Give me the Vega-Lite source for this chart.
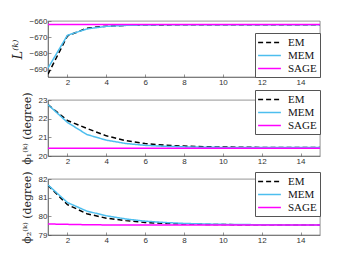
{
  "$schema": "https://vega.github.io/schema/vega-lite/v6.json",
  "background": "white",
  "padding": {"left": 11, "top": 16, "right": 5, "bottom": 5},
  "bounds": "flush",
  "spacing": 23,
  "config": {
    "view": {"stroke": "#4d4d4d", "strokeWidth": 0.6},
    "axis": {
      "grid": false, "domainColor": "#4d4d4d", "domainWidth": 0.6, "tickColor": "#4d4d4d", "tickWidth": 0.6,
      "tickSize": -3, "labelPadding": 4, "labelFont": "Liberation Sans", "labelFontSize": 8, "labelColor": "#333333",
      "titleFont": "DejaVu Serif", "titleFontSize": 11, "titleFontWeight": "normal", "titleColor": "#222222"
    },
    "legend": {
      "labelFont": "Liberation Serif", "labelFontSize": 11, "labelColor": "#111111", "symbolType": "M-2,0H2",
      "symbolSize": 130, "symbolStrokeWidth": 1.5, "symbolOffset": 5, "strokeColor": "#555555", "fillColor": "white",
      "padding": 3, "rowPadding": 1, "title": null, "labelOffset": 12
    }
  },
  "data": {"values": [
    {"p":"L","x":1,"m":"EM","v":-692.8},{"p":"L","x":2,"m":"EM","v":-669.2},{"p":"L","x":3,"m":"EM","v":-664.4},{"p":"L","x":4,"m":"EM","v":-663.2},{"p":"L","x":5,"m":"EM","v":-662.7},{"p":"L","x":6,"m":"EM","v":-662.5},{"p":"L","x":7,"m":"EM","v":-662.4},{"p":"L","x":8,"m":"EM","v":-662.35},{"p":"L","x":9,"m":"EM","v":-662.3},{"p":"L","x":10,"m":"EM","v":-662.3},{"p":"L","x":11,"m":"EM","v":-662.3},{"p":"L","x":12,"m":"EM","v":-662.3},{"p":"L","x":13,"m":"EM","v":-662.3},{"p":"L","x":14,"m":"EM","v":-662.3},{"p":"L","x":15,"m":"EM","v":-662.3},
    {"p":"L","x":1,"m":"MEM","v":-689.0},{"p":"L","x":2,"m":"MEM","v":-668.8},{"p":"L","x":3,"m":"MEM","v":-664.9},{"p":"L","x":4,"m":"MEM","v":-663.3},{"p":"L","x":5,"m":"MEM","v":-662.7},{"p":"L","x":6,"m":"MEM","v":-662.45},{"p":"L","x":7,"m":"MEM","v":-662.35},{"p":"L","x":8,"m":"MEM","v":-662.3},{"p":"L","x":9,"m":"MEM","v":-662.3},{"p":"L","x":10,"m":"MEM","v":-662.3},{"p":"L","x":11,"m":"MEM","v":-662.3},{"p":"L","x":12,"m":"MEM","v":-662.3},{"p":"L","x":13,"m":"MEM","v":-662.3},{"p":"L","x":14,"m":"MEM","v":-662.3},{"p":"L","x":15,"m":"MEM","v":-662.3},
    {"p":"L","x":1,"m":"SAGE","v":-662.1},{"p":"L","x":2,"m":"SAGE","v":-662.1},{"p":"L","x":3,"m":"SAGE","v":-662.1},{"p":"L","x":4,"m":"SAGE","v":-662.1},{"p":"L","x":5,"m":"SAGE","v":-662.1},{"p":"L","x":6,"m":"SAGE","v":-662.1},{"p":"L","x":7,"m":"SAGE","v":-662.1},{"p":"L","x":8,"m":"SAGE","v":-662.1},{"p":"L","x":9,"m":"SAGE","v":-662.1},{"p":"L","x":10,"m":"SAGE","v":-662.1},{"p":"L","x":11,"m":"SAGE","v":-662.1},{"p":"L","x":12,"m":"SAGE","v":-662.1},{"p":"L","x":13,"m":"SAGE","v":-662.1},{"p":"L","x":14,"m":"SAGE","v":-662.1},{"p":"L","x":15,"m":"SAGE","v":-662.1},
    {"p":"P1","x":1,"m":"EM","v":22.75},{"p":"P1","x":2,"m":"EM","v":21.9},{"p":"P1","x":3,"m":"EM","v":21.48},{"p":"P1","x":4,"m":"EM","v":21.08},{"p":"P1","x":5,"m":"EM","v":20.82},{"p":"P1","x":6,"m":"EM","v":20.67},{"p":"P1","x":7,"m":"EM","v":20.58},{"p":"P1","x":8,"m":"EM","v":20.53},{"p":"P1","x":9,"m":"EM","v":20.5},{"p":"P1","x":10,"m":"EM","v":20.48},{"p":"P1","x":11,"m":"EM","v":20.47},{"p":"P1","x":12,"m":"EM","v":20.46},{"p":"P1","x":13,"m":"EM","v":20.46},{"p":"P1","x":14,"m":"EM","v":20.45},{"p":"P1","x":15,"m":"EM","v":20.45},
    {"p":"P1","x":1,"m":"MEM","v":22.75},{"p":"P1","x":2,"m":"MEM","v":21.8},{"p":"P1","x":3,"m":"MEM","v":21.15},{"p":"P1","x":4,"m":"MEM","v":20.85},{"p":"P1","x":5,"m":"MEM","v":20.67},{"p":"P1","x":6,"m":"MEM","v":20.57},{"p":"P1","x":7,"m":"MEM","v":20.52},{"p":"P1","x":8,"m":"MEM","v":20.49},{"p":"P1","x":9,"m":"MEM","v":20.47},{"p":"P1","x":10,"m":"MEM","v":20.46},{"p":"P1","x":11,"m":"MEM","v":20.45},{"p":"P1","x":12,"m":"MEM","v":20.45},{"p":"P1","x":13,"m":"MEM","v":20.45},{"p":"P1","x":14,"m":"MEM","v":20.45},{"p":"P1","x":15,"m":"MEM","v":20.45},
    {"p":"P1","x":1,"m":"SAGE","v":20.42},{"p":"P1","x":2,"m":"SAGE","v":20.42},{"p":"P1","x":3,"m":"SAGE","v":20.42},{"p":"P1","x":4,"m":"SAGE","v":20.42},{"p":"P1","x":5,"m":"SAGE","v":20.42},{"p":"P1","x":6,"m":"SAGE","v":20.42},{"p":"P1","x":7,"m":"SAGE","v":20.42},{"p":"P1","x":8,"m":"SAGE","v":20.42},{"p":"P1","x":9,"m":"SAGE","v":20.42},{"p":"P1","x":10,"m":"SAGE","v":20.42},{"p":"P1","x":11,"m":"SAGE","v":20.42},{"p":"P1","x":12,"m":"SAGE","v":20.42},{"p":"P1","x":13,"m":"SAGE","v":20.42},{"p":"P1","x":14,"m":"SAGE","v":20.42},{"p":"P1","x":15,"m":"SAGE","v":20.42},
    {"p":"P2","x":1,"m":"EM","v":81.66},{"p":"P2","x":2,"m":"EM","v":80.63},{"p":"P2","x":3,"m":"EM","v":80.14},{"p":"P2","x":4,"m":"EM","v":79.9},{"p":"P2","x":5,"m":"EM","v":79.77},{"p":"P2","x":6,"m":"EM","v":79.67},{"p":"P2","x":7,"m":"EM","v":79.62},{"p":"P2","x":8,"m":"EM","v":79.59},{"p":"P2","x":9,"m":"EM","v":79.57},{"p":"P2","x":10,"m":"EM","v":79.56},{"p":"P2","x":11,"m":"EM","v":79.55},{"p":"P2","x":12,"m":"EM","v":79.55},{"p":"P2","x":13,"m":"EM","v":79.54},{"p":"P2","x":14,"m":"EM","v":79.54},{"p":"P2","x":15,"m":"EM","v":79.54},
    {"p":"P2","x":1,"m":"MEM","v":81.68},{"p":"P2","x":2,"m":"MEM","v":80.74},{"p":"P2","x":3,"m":"MEM","v":80.28},{"p":"P2","x":4,"m":"MEM","v":80.03},{"p":"P2","x":5,"m":"MEM","v":79.86},{"p":"P2","x":6,"m":"MEM","v":79.74},{"p":"P2","x":7,"m":"MEM","v":79.67},{"p":"P2","x":8,"m":"MEM","v":79.62},{"p":"P2","x":9,"m":"MEM","v":79.59},{"p":"P2","x":10,"m":"MEM","v":79.57},{"p":"P2","x":11,"m":"MEM","v":79.56},{"p":"P2","x":12,"m":"MEM","v":79.55},{"p":"P2","x":13,"m":"MEM","v":79.54},{"p":"P2","x":14,"m":"MEM","v":79.54},{"p":"P2","x":15,"m":"MEM","v":79.54},
    {"p":"P2","x":1,"m":"SAGE","v":79.59},{"p":"P2","x":2,"m":"SAGE","v":79.57},{"p":"P2","x":3,"m":"SAGE","v":79.55},{"p":"P2","x":4,"m":"SAGE","v":79.54},{"p":"P2","x":5,"m":"SAGE","v":79.53},{"p":"P2","x":6,"m":"SAGE","v":79.53},{"p":"P2","x":7,"m":"SAGE","v":79.53},{"p":"P2","x":8,"m":"SAGE","v":79.53},{"p":"P2","x":9,"m":"SAGE","v":79.53},{"p":"P2","x":10,"m":"SAGE","v":79.53},{"p":"P2","x":11,"m":"SAGE","v":79.53},{"p":"P2","x":12,"m":"SAGE","v":79.53},{"p":"P2","x":13,"m":"SAGE","v":79.53},{"p":"P2","x":14,"m":"SAGE","v":79.53},{"p":"P2","x":15,"m":"SAGE","v":79.53}
  ]},
  "resolve": {"legend": {"color": "independent", "strokeDash": "independent"}, "scale": {"y": "independent"}},
  "vconcat": [
    {
      "width": 272, "height": 56,
      "transform": [{"filter": "datum.p === 'L'"}],
      "mark": {"type": "line", "strokeWidth": 1.5, "clip": true},
      "encoding": {
        "x": {"field": "x", "type": "quantitative", "scale": {"domain": [1, 15], "nice": false}, "axis": {"values": [2,4,6,8,10,12,14], "title": null}},
        "y": {"field": "v", "type": "quantitative", "scale": {"domain": [-694.5, -660], "nice": false, "zero": false}, "axis": {"values": [-690,-680,-670,-660], "title": "L⁽ᵏ⁾", "titleFontStyle": "italic", "titleFontSize": 13, "titlePadding": 4}},
        "color": {"field": "m", "type": "nominal", "scale": {"domain": ["EM","MEM","SAGE"], "range": ["#000000","#4DBEEE","#FF00FF"]}, "legend": {"orient": "none", "legendX": 207, "legendY": 12}},
        "strokeDash": {"field": "m", "type": "nominal", "scale": {"domain": ["EM","MEM","SAGE"], "range": [[5,3],[1,0],[1,0]]}, "legend": {"orient": "none", "legendX": 207, "legendY": 12}}
      }
    },
    {
      "width": 272, "height": 56,
      "transform": [{"filter": "datum.p === 'P1'"}],
      "mark": {"type": "line", "strokeWidth": 1.5, "clip": true},
      "encoding": {
        "x": {"field": "x", "type": "quantitative", "scale": {"domain": [1, 15], "nice": false}, "axis": {"values": [2,4,6,8,10,12,14], "title": null}},
        "y": {"field": "v", "type": "quantitative", "scale": {"domain": [20, 23], "nice": false, "zero": false}, "axis": {"values": [20,21,22,23], "title": "ϕ₁⁽ᵏ⁾ (degree)", "titlePadding": 6}},
        "color": {"field": "m", "type": "nominal", "scale": {"domain": ["EM","MEM","SAGE"], "range": ["#000000","#4DBEEE","#FF00FF"]}, "legend": {"orient": "none", "legendX": 207, "legendY": -10}},
        "strokeDash": {"field": "m", "type": "nominal", "scale": {"domain": ["EM","MEM","SAGE"], "range": [[5,3],[1,0],[1,0]]}, "legend": {"orient": "none", "legendX": 207, "legendY": -10}}
      }
    },
    {
      "width": 272, "height": 56,
      "transform": [{"filter": "datum.p === 'P2'"}],
      "mark": {"type": "line", "strokeWidth": 1.5, "clip": true},
      "encoding": {
        "x": {"field": "x", "type": "quantitative", "scale": {"domain": [1, 15], "nice": false}, "axis": {"values": [2,4,6,8,10,12,14], "title": null}},
        "y": {"field": "v", "type": "quantitative", "scale": {"domain": [79, 82], "nice": false, "zero": false}, "axis": {"values": [79,80,81,82], "title": "ϕ₂⁽ᵏ⁾ (degree)", "titlePadding": 6}},
        "color": {"field": "m", "type": "nominal", "scale": {"domain": ["EM","MEM","SAGE"], "range": ["#000000","#4DBEEE","#FF00FF"]}, "legend": {"orient": "none", "legendX": 207, "legendY": -7}},
        "strokeDash": {"field": "m", "type": "nominal", "scale": {"domain": ["EM","MEM","SAGE"], "range": [[5,3],[1,0],[1,0]]}, "legend": {"orient": "none", "legendX": 207, "legendY": -7}}
      }
    }
  ]
}
